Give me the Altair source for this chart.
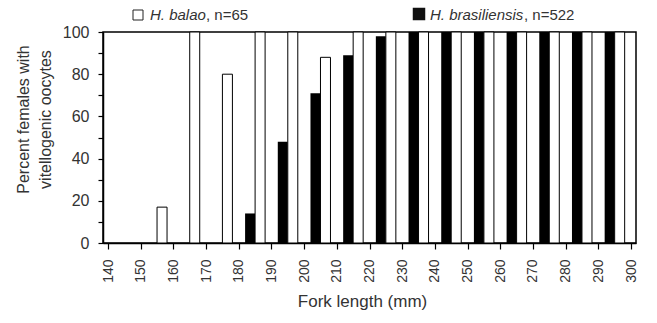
import altair as alt
import pandas as pd

# ---- data ----
bins = [140, 150, 160, 170, 180, 190, 200, 210, 220, 230, 240, 250, 260, 270, 280, 290]
balao = [None, 17, 100, 80, 100, 100, 88, 100, 100, 100, 100, 100, 100, 100, 100, 100]
brasiliensis = [None, None, None, None, 14, 48, 71, 89, 98, 100, 100, 100, 100, 100, 100, 100]
x_ticks = list(range(140, 301, 10))
y_ticks = list(range(0, 101, 10))
legend_species = ["H. balao", "H. brasiliensis"]
legend_counts = [", n=65", ", n=522"]

df = pd.DataFrame({"bin": bins, "balao": balao, "brasiliensis": brasiliensis})

FONT = "Liberation Sans"
TXT = "#333333"

x_enc = alt.X(
    "mid:Q",
    scale=alt.Scale(domain=[140, 300], nice=False, zero=False),
    axis=alt.Axis(
        values=x_ticks, labelAngle=-90, tickSize=6, labelPadding=10,
        labelFontSize=14, titleFontSize=17, titleX=259, titleY=63,
        titleBaseline="alphabetic", titleFontWeight="normal",
    ),
    title="Fork length (mm)",
)
y_title = ["Percent females with", "vitellogenic oocytes"]
y_axis = alt.Axis(
    values=y_ticks, labelExpr="datum.value % 20 == 0 ? datum.label : ''",
    tickSize=5, labelPadding=9, labelFontSize=16,
    titleFontSize=16, titleAngle=270, titleX=-75, titleY=87,
    titleAlign="center", titleBaseline="alphabetic", titleLineHeight=22,
    titleFontWeight="normal",
)
y_scale = alt.Scale(domain=[0, 100], nice=False)

base = alt.Chart(df).transform_calculate(mid="datum.bin + 5")

black_bars = base.transform_filter("isValid(datum.brasiliensis)").mark_bar(
    color="black", size=10, xOffset=-5
).encode(
    x=x_enc,
    y=alt.Y("brasiliensis:Q", scale=y_scale, axis=y_axis, title=y_title),
)
white_bars = base.transform_filter("isValid(datum.balao)").mark_bar(
    fill="white", stroke="black", strokeWidth=1, size=10, xOffset=5
).encode(
    x=x_enc,
    y=alt.Y("balao:Q", scale=y_scale, axis=y_axis, title=y_title),
)

# legend (annotation at top)
def one(val):
    return pd.DataFrame({"t": [val]})

sq_white = alt.Chart(one(legend_species[0])).mark_point(
    shape="square", size=100, filled=True, fill="white", stroke="#222", strokeWidth=1, opacity=1
).encode(x=alt.value(35), y=alt.value(-17))
sq_black = alt.Chart(one(legend_species[1])).mark_point(
    shape="square", size=110, filled=True, fill="#111", stroke="#111", opacity=1
).encode(x=alt.value(316), y=alt.value(-18))

def label(val, xpos, italic):
    kw = dict(font=FONT, fontSize=15, color=TXT, align="left", baseline="alphabetic")
    if italic:
        kw["fontStyle"] = "italic"
    return alt.Chart(one(val)).mark_text(**kw).encode(
        x=alt.value(xpos), y=alt.value(-12), text="t:N"
    )

t1 = label(legend_species[0], 47, True)
t2 = label(legend_counts[0], 103, False)
t3 = label(legend_species[1], 327, True)
t4 = label(legend_counts[1], 421, False)

chart = alt.layer(black_bars, white_bars, sq_white, sq_black, t1, t2, t3, t4).properties(
    width=533, height=211, autosize="none",
    padding={"left": 103, "top": 32, "right": 21, "bottom": 80},
    background="white",
).configure_view(
    stroke="black", strokeWidth=1.5
).configure_axis(
    grid=False, domainColor="black", domainWidth=1.5, tickColor="black", tickWidth=1.2,
    labelColor=TXT, titleColor=TXT, labelFont=FONT, titleFont=FONT,
    titleFontWeight="normal",
)

chart.save("out.html", embed_options={"renderer": "svg", "actions": False})
